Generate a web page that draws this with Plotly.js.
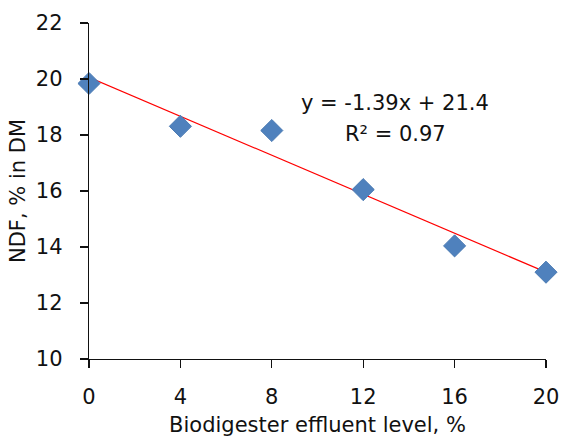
<!DOCTYPE html>
<html><head><meta charset="utf-8">
<script src="https://cdn.plot.ly/plotly-3.0.1.min.js"></script>
<style>html,body{margin:0;padding:0;background:#fff}</style>
</head><body>
<div id="chart" style="width:563px;height:437px"></div>
<script>
const levels = [0, 4, 8, 12, 16, 20];
const ndf = [19.84, 18.31, 18.16, 16.05, 14.04, 13.1];
const trendX = [0, 20];
const trendY = [20.06, 13.1];
const xTicks = [0, 4, 8, 12, 16, 20];
const yTicks = [10, 12, 14, 16, 18, 20, 22];
const eqText = 'y = -1.39x + 21.4';
const r2Text = 'R² = 0.97';

const font = '"DejaVu Sans", sans-serif';
const fs = 21;
const data = [
  {x: trendX, y: trendY, mode: 'lines', type: 'scatter', line: {color: '#ff0000', width: 1.2}, hoverinfo: 'skip', cliponaxis: false},
  {x: levels, y: ndf, mode: 'markers', type: 'scatter', cliponaxis: false,
   marker: {symbol: 'diamond', size: 17, color: '#4f81bd', line: {color: '#4a7ab3', width: 1}}}
];
const layout = {
  width: 563, height: 437,
  margin: {l: 89, r: 17, t: 23, b: 78},
  showlegend: false,
  paper_bgcolor: '#fff', plot_bgcolor: '#fff',
  font: {family: font, size: fs, color: '#111'},
  xaxis: {range: [0, 20], tickvals: xTicks, ticks: 'outside', ticklen: 8, tickcolor: '#111', tickwidth: 1.3,
          showline: true, linecolor: '#111', linewidth: 1.3, showgrid: false, zeroline: false,
          tickfont: {size: fs, family: font}, ticklabelstandoff: 10,
          title: {text: 'Biodigester effluent level, %', font: {size: fs, family: font}, standoff: 14}},
  yaxis: {range: [10, 22], tickvals: yTicks, ticks: 'outside', ticklen: 8, tickcolor: '#111', tickwidth: 1.3,
          showline: true, linecolor: '#111', linewidth: 1.3, showgrid: false, zeroline: false,
          tickfont: {size: fs, family: font}, ticklabelstandoff: 13,
          title: {text: 'NDF, % in DM', font: {size: fs, family: font}, standoff: 4}},
  annotations: [
    {x: 13.4, y: 19.13, xref: 'x', yref: 'y', text: eqText, showarrow: false, font: {size: fs, family: font, color: '#111'}},
    {x: 13.4, y: 18.02, xref: 'x', yref: 'y', text: r2Text, showarrow: false, font: {size: fs, family: font, color: '#111'}}
  ]
};
Plotly.newPlot('chart', data, layout, {displayModeBar: false, staticPlot: true});
</script>
</body></html>
